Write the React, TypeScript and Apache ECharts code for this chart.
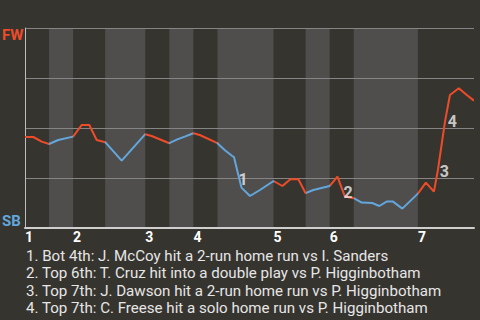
import React, { useEffect, useRef } from 'react';
import * as echarts from 'echarts';

// Half-inning boundaries (in plate-appearance units); even index = top half starts
const halfInningBounds = [0, 3, 6, 10, 15, 18, 21, 24, 31, 35, 38, 41, 49, 56];
const inningNames = ['1', '2', '3', '4', '5', '6', '7'];

// Win probability for FW (0 = SB wins, 100 = FW wins)
const wpX = [0, 1.04, 2.08, 3, 4.15, 6, 7.07, 8.02, 8.94, 10, 12.06, 15, 15.8, 18, 19, 20, 21, 21.8, 24, 24.9, 25.85, 26.07, 26.4, 27, 28.06, 29.3, 31, 32.1, 33.1, 34.1, 35, 35.96, 38, 38.97, 39.9, 41, 42, 43.3, 44.2, 45.1, 45.9, 47.06, 49, 50, 51, 51.5, 52.38, 53, 54.1, 55.1, 56];
const wpY = [45.5, 45.5, 43.2, 42, 44, 45.7, 51.5, 51.5, 44, 42.9, 33.7, 46.9, 46, 42.4, 44.3, 45.8, 47.4, 46.5, 42.4, 39, 36, 35.4, 29.9, 20.2, 16, 19, 23.5, 21, 24.4, 24.4, 17.4, 19, 21, 25.7, 15.7, 14.9, 12.7, 12.5, 11, 13.2, 13.2, 9.7, 17.2, 22.7, 18.2, 29, 53.2, 66.5, 69.9, 66.5, 63.7];

// Key plays annotations
const noteNums = ['1', '2', '3', '4'];
const noteX = [27.2, 40.3, 52.3, 53.3];
const noteY = [24.5, 18, 28.5, 53.5];
const noteTexts = [
  '1. Bot 4th: J. McCoy hit a 2-run home run vs I. Sanders',
  '2. Top 6th: T. Cruz hit into a double play vs P. Higginbotham',
  '3. Top 7th: J. Dawson hit a 2-run home run vs P. Higginbotham',
  '4. Top 7th: C. Freese hit a solo home run vs P. Higginbotham',
];

const teamTop = 'FW';
const teamBottom = 'SB';

const RED = '#ee4b28';
const BLUE = '#62a6dc';
const BG = '#36342f';
const BAND = '#4f4e4c';

export default function App() {
  const ref = useRef<HTMLDivElement>(null);

  useEffect(() => {
    if (!ref.current) return;
    const chart = echarts.init(ref.current, undefined, { renderer: 'svg' });

    const inningStarts = halfInningBounds.filter((_, i) => i % 2 === 0 && i < halfInningBounds.length - 1);
    const bottomHalves: number[][] = [];
    for (let i = 1; i < halfInningBounds.length - 1; i += 2) {
      bottomHalves.push([halfInningBounds[i], halfInningBounds[i + 1]]);
    }
    const pieces: any[] = [];
    for (let i = 0; i < halfInningBounds.length - 1; i++) {
      const last = i === halfInningBounds.length - 2;
      pieces.push({
        gte: halfInningBounds[i],
        ...(last ? { lte: halfInningBounds[i + 1] } : { lt: halfInningBounds[i + 1] }),
        color: i % 2 === 0 ? RED : BLUE,
      });
    }

    const lineData = wpX.map((x, i) => [x, wpY[i]]);
    const noteData = noteX.map((x, i) => [x, noteY[i], noteNums[i]]);

    const graphics: any[] = [
      {
        type: 'text',
        left: 2,
        top: 27,
        style: { text: teamTop, fill: RED, font: 'bold 15px Roboto' },
      },
      {
        type: 'text',
        left: 2,
        top: 213,
        style: { text: teamBottom, fill: BLUE, font: 'bold 15px Roboto' },
      },
    ];
    noteTexts.forEach((t, i) => {
      graphics.push({
        type: 'text',
        left: 26,
        top: 248.5 + i * 17.33,
        style: { text: t, fill: '#e6e6e6', font: '15.1px Roboto' },
      });
    });

    chart.setOption({
      animation: false,
      backgroundColor: BG,
      textStyle: { fontFamily: 'Roboto' },
      grid: { left: 25, right: 6, top: 28, bottom: 92 },
      xAxis: {
        type: 'value',
        min: halfInningBounds[0],
        max: halfInningBounds[halfInningBounds.length - 1],
        z: 5,
        axisLine: { show: true, lineStyle: { color: '#cfcfcf', width: 2 } },
        axisTick: { show: false },
        splitLine: { show: false },
        axisLabel: {
          customValues: inningStarts,
          formatter: (v: number) => inningNames[inningStarts.indexOf(v)] ?? '',
          color: '#ffffff',
          fontWeight: 'bold',
          fontSize: 14,
          align: 'left',
          margin: 2,
        },
      },
      yAxis: {
        type: 'value',
        min: 0,
        max: 100,
        interval: 25,
        z: 5,
        axisLine: { show: true, lineStyle: { color: '#bdbdbd', width: 1 } },
        axisTick: { show: false },
        axisLabel: { show: false },
        splitLine: { show: true, lineStyle: { color: '#858585', width: 1 } },
      },
      visualMap: {
        type: 'piecewise',
        show: false,
        dimension: 0,
        seriesIndex: 1,
        pieces,
      },
      graphic: graphics,
      series: [
        {
          type: 'custom',
          z: 1,
          silent: true,
          data: bottomHalves,
          renderItem: (params: any, api: any) => {
            const p1 = api.coord([api.value(0), 100]);
            const p2 = api.coord([api.value(1), 0]);
            return {
              type: 'rect',
              shape: { x: p1[0], y: p1[1], width: p2[0] - p1[0], height: p2[1] - p1[1] },
              style: { fill: BAND },
            };
          },
        },
        {
          type: 'line',
          z: 10,
          data: lineData,
          showSymbol: false,
          lineStyle: { width: 2 },
          silent: true,
        },
        {
          type: 'scatter',
          z: 12,
          data: noteData,
          symbolSize: 0,
          silent: true,
          label: {
            show: true,
            position: 'inside',
            formatter: (p: any) => p.data[2],
            color: '#f0f0f0',
            fontWeight: 'bold',
            fontSize: 16,
          },
        },
      ],
    });

    return () => chart.dispose();
  }, []);

  return (
    <div
      style={{ position: 'fixed', left: 0, top: 0, width: 480, height: 320, background: BG }}
    >
      <div ref={ref} style={{ width: 480, height: 320 }} />
    </div>
  );
}
